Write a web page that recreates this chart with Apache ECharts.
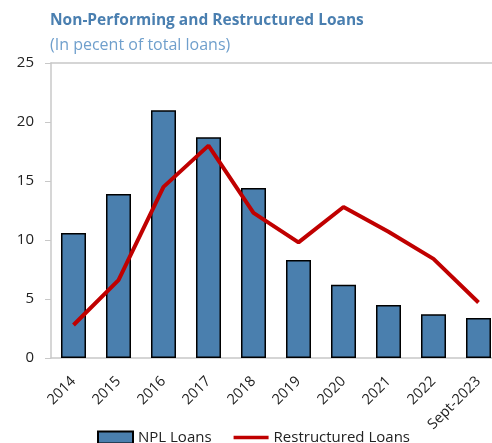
<!DOCTYPE html>
<html>
<head>
<meta charset="utf-8">
<script src="https://cdn.jsdelivr.net/npm/echarts@6/dist/echarts.min.js"></script>
<style>
  html, body { margin: 0; padding: 0; background: #fff; }
  #chart { width: 492px; height: 443px; }
</style>
</head>
<body>
<div id="chart"></div>
<script>
// 数据
var categories = ['2014', '2015', '2016', '2017', '2018', '2019', '2020', '2021', '2022', 'Sept-2023']
var nplLoans = [10.6, 13.9, 21.0, 18.7, 14.4, 8.3, 6.2, 4.5, 3.7, 3.4]
var restructuredLoans = [2.8, 6.6, 14.5, 18.0, 12.3, 9.8, 12.8, 10.7, 8.4, 4.7]
var yTicks = [0, 5, 10, 15, 20, 25]

var font = '"Open Sans", "Noto Sans", sans-serif'
var chart = echarts.init(document.getElementById('chart'))

var option = {
    animation: false,
    textStyle: { fontFamily: font },
    title: {
        text: 'Non-Performing and Restructured Loans',
        subtext: '(In pecent of total loans)',
        left: 45,
        top: 8,
        itemGap: 8,
        textStyle: { color: '#4a7fb0', fontSize: 15.5, fontWeight: 'bold', fontFamily: font },
        subtextStyle: { color: '#6f9fcc', fontSize: 16, fontFamily: font }
    },
    legend: {
        top: 425,
        left: 92,
        itemWidth: 35,
        itemHeight: 12,
        itemGap: 22,
        textStyle: { color: '#222', fontSize: 15, fontFamily: font },
        data: [
            { name: 'NPL Loans', icon: 'rect' },
            { name: 'Restructured Loans', icon: 'path://M0,0 L10,0 L10,1 L0,1 Z' }
        ]
    },
    grid: { left: 51, width: 450, top: 63, height: 295, outerBoundsMode: 'none' },
    xAxis: [{
        type: 'category',
        data: categories,
        axisLine: { lineStyle: { color: '#c8c8c8', width: 1.5 } },
        axisTick: { inside: true, length: 5, lineStyle: { color: '#c8c8c8' } },
        axisLabel: { rotate: 45, color: '#222', fontSize: 14.5, margin: 21, interval: 0 }
    }, {
        type: 'category',
        position: 'top',
        data: categories,
        axisLine: { lineStyle: { color: '#c8c8c8', width: 1.5 } },
        axisTick: { show: false },
        axisLabel: { show: false }
    }],
    yAxis: {
        type: 'value',
        min: yTicks[0],
        max: yTicks[yTicks.length - 1],
        interval: 5,
        axisLine: { show: true, lineStyle: { color: '#c8c8c8', width: 1.5 } },
        axisTick: { show: true, length: 6, lineStyle: { color: '#c8c8c8' } },
        axisLabel: { color: '#222', fontSize: 15, margin: 17 },
        splitLine: { show: false }
    },
    series: [{
        name: 'NPL Loans',
        type: 'bar',
        data: nplLoans,
        barWidth: 25,
        itemStyle: { color: '#4a7fae', borderColor: '#000', borderWidth: 1.5 }
    }, {
        name: 'Restructured Loans',
        type: 'line',
        data: restructuredLoans,
        symbol: 'none',
        lineStyle: { color: '#c00000', width: 4 },
        itemStyle: { color: '#c00000' }
    }]
}

chart.setOption(option)
</script>
</body>
</html>
